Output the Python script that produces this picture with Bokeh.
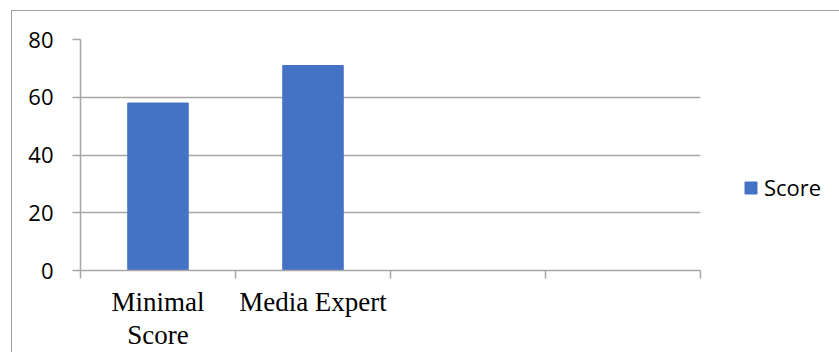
from bokeh.plotting import figure
from bokeh.models import Range1d, FixedTicker, Legend, LegendItem
from bokeh.embed import file_html
from bokeh.resources import INLINE

# ---- data ----
categories = ["Minimal\nScore", "Media Expert", "", ""]
scores = [58, 71]
y_ticks = [0, 20, 40, 60, 80]
series_name = "Score"

BAR = "#4472C4"
GRID = "#A6A6A6"

n = len(categories)
centers = [i + 0.5 for i in range(n)]
bounds = list(range(n + 1))

p = figure(frame_width=620, frame_height=231, output_backend="svg", toolbar_location=None,
           x_range=Range1d(0, n), y_range=Range1d(0, 80),
           min_border_left=68, min_border_right=131, min_border_top=28, min_border_bottom=80)
p.outline_line_color = None
p.background_fill_color = "white"
p.border_fill_color = "white"
p.styles = {"border-left": "1px solid #A0A0A0", "border-top": "1px solid #A0A0A0",
            "margin-left": "11px", "margin-top": "10px"}

r = p.vbar(x=centers[:len(scores)], top=scores, width=0.39,
           fill_color=BAR, line_color=BAR)

# grid
p.xgrid.grid_line_color = None
p.ygrid.grid_line_color = GRID
p.ygrid.grid_line_width = 1.5
p.ygrid.ticker = FixedTicker(ticks=y_ticks)

# y axis
ya = p.yaxis[0]
ya.ticker = FixedTicker(ticks=y_ticks)
ya.axis_line_color = GRID
ya.axis_line_width = 1.5
ya.major_tick_line_color = GRID
ya.major_tick_line_width = 1.5
ya.major_tick_out = 8
ya.major_tick_in = 0
ya.minor_tick_line_color = None
ya.major_label_standoff = 19
ya.major_label_text_font = "Open Sans"
ya.major_label_text_font_size = "22px"
ya.major_label_text_color = "black"

# x axis
xa = p.xaxis[0]
xa.ticker = FixedTicker(ticks=centers, minor_ticks=bounds)
xa.major_label_overrides = {c: lab for c, lab in zip(centers, categories)}
xa.axis_line_color = GRID
xa.axis_line_width = 1.5
xa.major_tick_line_color = None
xa.major_tick_out = 0
xa.major_tick_in = 0
xa.minor_tick_line_color = GRID
xa.minor_tick_line_width = 1.5
xa.minor_tick_out = 8
xa.minor_tick_in = 0
xa.major_label_standoff = 8
xa.major_label_text_font = "Liberation Serif"
xa.major_label_text_font_size = "27px"
xa.major_label_text_line_height = 1.1
xa.major_label_text_color = "black"

legend = Legend(items=[LegendItem(label=series_name, renderers=[r])],
                location=(43, 68), glyph_width=15, glyph_height=15,
                label_standoff=6, padding=0, margin=0, spacing=0,
                border_line_color=None, background_fill_alpha=0,
                label_text_font="Open Sans", label_text_font_size="22px",
                label_text_color="black")
p.add_layout(legend, "right")

open("out.html", "w").write(file_html(p, INLINE))
